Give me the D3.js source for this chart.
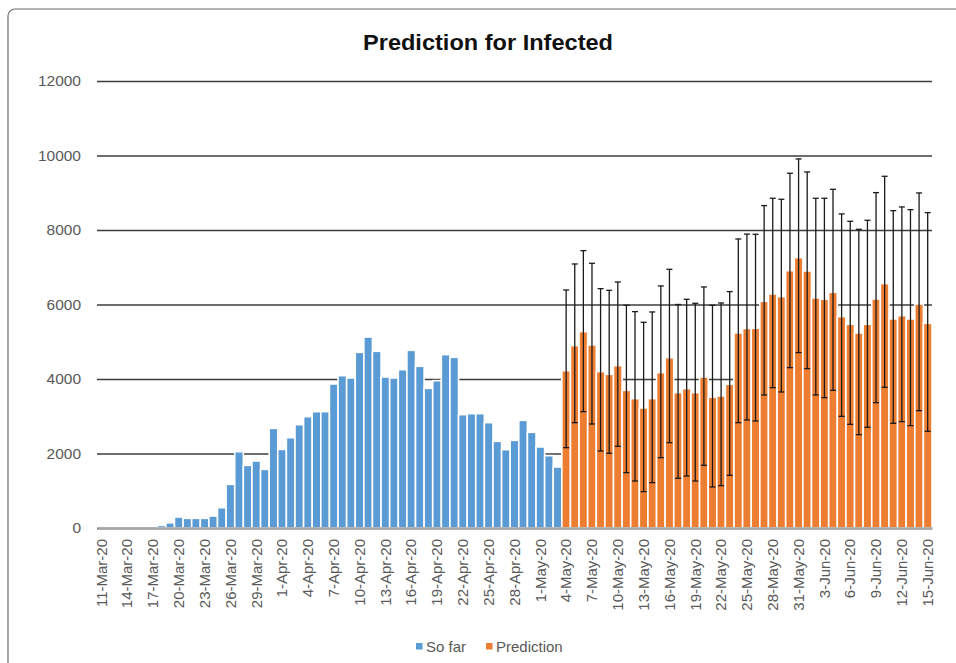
<!DOCTYPE html>
<html>
<head>
<meta charset="utf-8">
<script src="https://cdn.jsdelivr.net/npm/d3@7/dist/d3.min.js"></script>
<style>
  html, body { margin: 0; padding: 0; background: #fff; }
  svg { display: block; }
  text { font-family: "Liberation Sans", Arial, sans-serif; }
</style>
</head>
<body>
<svg id="chart" width="956" height="663"></svg>
<script>
// ---- Data ----
const startDate = "2020-03-11";
const endDate = "2020-06-15";
const tickEvery = 3;

const soFar = [0, 0, 0, 0, 0, 0, 0, 70, 140, 295, 260, 260, 260, 322, 546, 1172, 2049, 1682, 1799, 1575,
  2675, 2111, 2425, 2774, 2989, 3123, 3123, 3866, 4090, 4028, 4717, 5128, 4744, 4054, 4028, 4251, 4770,
  4341, 3750, 3956, 4654, 4582, 3043, 3070, 3070, 2828, 2327, 2103, 2354, 2891, 2569, 2175, 1942, 1638];

const prediction = [4224, 4896, 5272, 4914, 4198, 4126, 4359, 3696, 3473, 3222, 3473, 4171, 4573, 3634,
  3741, 3634, 4054, 3508, 3544, 3857, 5236, 5356, 5361, 6086, 6283, 6211, 6909, 7258, 6900, 6176, 6140,
  6328, 5674, 5468, 5236, 5468, 6149, 6560, 5612, 5701, 5612, 6014, 5495];

const predHigh = [6390, 7088, 7446, 7106, 6426, 6381, 6605, 5979, 5809, 5522, 5800, 6498, 6945, 6000,
  6140, 6032, 6471, 5979, 6041, 6346, 7760, 7890, 7885, 8655, 8852, 8825, 9523, 9908, 9559, 8852, 8852,
  9093, 8431, 8234, 8019, 8261, 9004, 9442, 8520, 8619, 8547, 8995, 8467];

const predLow = [2157, 2828, 3124, 2792, 2067, 2005, 2193, 1486, 1262, 976, 1217, 1888, 2291, 1334,
  1396, 1262, 1683, 1101, 1137, 1414, 2828, 2900, 2873, 3571, 3768, 3652, 4305, 4708, 4278, 3571, 3499,
  3696, 2998, 2783, 2506, 2703, 3365, 3777, 2810, 2855, 2748, 3150, 2596];

const yTicks = [0, 2000, 4000, 6000, 8000, 10000, 12000];
const seriesNames = ["So far", "Prediction"];
const seriesColors = ["#5B9BD5", "#ED7D31"];
const title = "Prediction for Infected";

// categories (every calendar day)
const parse = d3.timeParse("%Y-%m-%d");
const fmt = d3.timeFormat("%-d-%b-%y");
const categories = d3.timeDay.range(parse(startDate), d3.timeDay.offset(parse(endDate), 1)).map(fmt);
const tickLabels = categories.filter((d, i) => i % tickEvery === 0);

const soFarData = soFar.map((v, i) => ({ cat: categories[i], v }));
const predData = prediction.map((v, i) => ({
  cat: categories[soFar.length + i], v, lo: predLow[i], hi: predHigh[i]
}));

// ---- Layout ----
const svg = d3.select("#chart");
const plotLeft = 97, plotRight = 932, plotTop = 81, plotBottom = 528;

svg.append("rect")
  .attr("x", 8).attr("y", 9).attr("width", 1000).attr("height", 700)
  .attr("rx", 7).attr("fill", "none").attr("stroke", "#6b6b6b").attr("stroke-width", 1.2);

const x = d3.scaleBand().domain(categories).range([plotLeft, plotRight]).padding(0);
const y = d3.scaleLinear().domain([0, 12000]).range([plotBottom, plotTop]);

svg.append("text")
  .attr("x", 488).attr("y", 50)
  .attr("text-anchor", "middle")
  .attr("font-size", 22).attr("font-weight", "bold").attr("fill", "#111")
  .attr("textLength", 250).attr("lengthAdjust", "spacingAndGlyphs")
  .text(title);

// y axis + gridlines
const yAxis = svg.append("g")
  .attr("transform", `translate(${plotLeft},0)`)
  .call(d3.axisLeft(y).tickValues(yTicks).tickSize(-(plotRight - plotLeft)).tickPadding(16).tickFormat(d3.format("d")));
yAxis.select(".domain").remove();
yAxis.selectAll(".tick line").attr("stroke", "#3c3c3c").attr("stroke-width", 1.4);
yAxis.selectAll(".tick text").attr("fill", "#595959").attr("font-size", 15.5)
  .attr("font-family", "Liberation Sans, Arial, sans-serif");

// bars
const bw = x.bandwidth();
svg.append("g").selectAll("rect").data(soFarData.filter(d => d.v > 0)).join("rect")
  .attr("x", d => x(d.cat)).attr("width", bw)
  .attr("y", d => y(d.v)).attr("height", d => y(0) - y(d.v))
  .attr("fill", seriesColors[0]).attr("stroke", "#fff").attr("stroke-width", 1.6);

svg.append("g").selectAll("rect").data(predData).join("rect")
  .attr("x", d => x(d.cat)).attr("width", bw)
  .attr("y", d => y(d.v)).attr("height", d => y(0) - y(d.v))
  .attr("fill", seriesColors[1]).attr("stroke", "#fff").attr("stroke-width", 1.6);

// error bars
const eb = svg.append("g").attr("stroke", "#1a1a1a").attr("stroke-width", 1.3);
predData.forEach(d => {
  const cx = x(d.cat) + bw / 2;
  eb.append("line").attr("x1", cx).attr("x2", cx).attr("y1", y(d.lo)).attr("y2", y(d.hi));
  eb.append("line").attr("x1", cx - 3).attr("x2", cx + 3).attr("y1", y(d.hi)).attr("y2", y(d.hi));
  eb.append("line").attr("x1", cx - 3).attr("x2", cx + 3).attr("y1", y(d.lo)).attr("y2", y(d.lo));
});

// x axis
const xAxis = svg.append("g")
  .attr("transform", `translate(0,${plotBottom})`)
  .call(d3.axisBottom(x).tickValues(tickLabels).tickSize(0).tickPadding(0));
xAxis.select(".domain").attr("stroke", "#a6a6a6").attr("stroke-width", 2.5);
xAxis.selectAll(".tick text")
  .attr("fill", "#595959").attr("font-size", 15)
  .attr("font-family", "Liberation Sans, Arial, sans-serif")
  .attr("text-anchor", "end")
  .attr("transform", "rotate(-90)")
  .attr("x", -11).attr("y", 0).attr("dy", "0.35em");

// legend
const legend = svg.append("g");
const legendPos = [{ sx: 416, tx: 426 }, { sx: 486, tx: 496 }];
seriesNames.forEach((name, i) => {
  legend.append("rect").attr("x", legendPos[i].sx).attr("y", 643).attr("width", 6.5).attr("height", 6.5)
    .attr("fill", seriesColors[i]);
  legend.append("text").attr("x", legendPos[i].tx).attr("y", 652)
    .attr("font-size", 15).attr("fill", "#595959").text(name);
});
</script>
</body>
</html>
